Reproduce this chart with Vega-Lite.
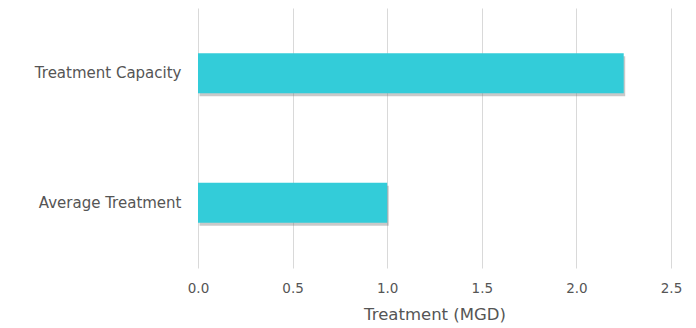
{
  "$schema": "https://vega.github.io/schema/vega-lite/v6.json",
  "autosize": {"type": "none"},
  "width": 473,
  "height": 260,
  "padding": {"left": 198, "top": 8, "right": 25, "bottom": 60},
  "background": "white",
  "data": {"values": [
    {"category": "Treatment Capacity", "value": 2.25},
    {"category": "Average Treatment", "value": 1.0}
  ]},
  "encoding": {
    "y": {"field": "category", "type": "nominal", "sort": ["Treatment Capacity", "Average Treatment"],
      "scale": {"paddingInner": 0.69, "paddingOuter": 0.35},
      "axis": {"title": null, "domain": false, "ticks": false, "labelPadding": 17, "labelFont": "DejaVu Sans", "labelFontSize": 15, "labelColor": "#555555"}},
    "x": {"field": "value", "type": "quantitative", "scale": {"domain": [0, 2.5]},
      "axis": {"title": "Treatment (MGD)", "values": [0, 0.5, 1, 1.5, 2, 2.5], "format": ".1f", "domain": false, "ticks": false, "labelFlush": false,
        "grid": true, "gridColor": "#d9d9d9", "labelPadding": 13, "labelFont": "DejaVu Sans", "labelFontSize": 13.5, "labelColor": "#555555",
        "titleFont": "DejaVu Sans", "titleFontSize": 16.5, "titleFontWeight": "normal", "titleColor": "#555555", "titlePadding": 12}}
  },
  "layer": [
    {"mark": {"type": "bar", "color": "#777777", "opacity": 0.4, "yOffset": 3, "xOffset": 1.5}},
    {"mark": {"type": "bar", "color": "#33CCD9"}}
  ],
  "config": {"view": {"stroke": null}}
}
